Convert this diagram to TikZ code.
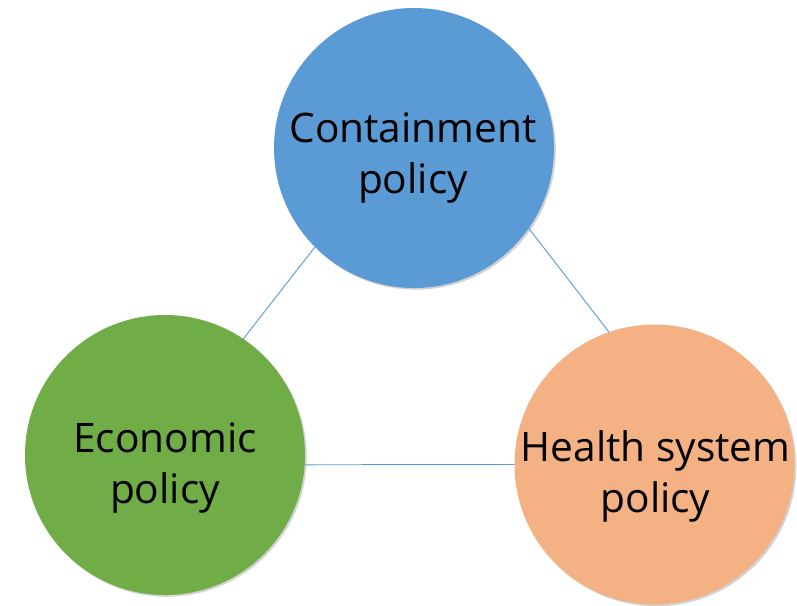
\documentclass[tikz,border=0pt]{standalone}
\usepackage{fontspec}
\setmainfont{Open Sans}
\usetikzlibrary{shadows}
\definecolor{polblue}{HTML}{5B9BD5}
\definecolor{polgreen}{HTML}{70AD47}
\definecolor{polorange}{HTML}{F4B183}
\tikzset{
	bubble/.style={circle, minimum size=8.4cm, inner sep=0pt,
		drop shadow={shadow xshift=1.5pt, shadow yshift=-1.5pt, opacity=0.35}},
	words/.style={align=center, inner sep=0pt},
	link/.style={polblue, line width=0.8pt}
}
\begin{document}
\begin{tikzpicture}[x=0.03cm, y=-0.03cm, font=\fontsize{34.7}{43.5}\selectfont, line join=round, line cap=round]
	\useasboundingbox (0,0) rectangle (797,605);
	% three policy areas
	\node[bubble, fill=polblue] (contain) at (414,148) {};
	\node[bubble, fill=polgreen] (econ) at (165,455) {};
	\node[bubble, fill=polorange] (health) at (654.5,464.5) {};
	\node[words] (containtxt) at (413,157.5) {Containment\\policy};
	\node[words] (econtxt) at (165,468) {Economic\\policy};
	\node[words] (healthtxt) at (655.5,476) {Health system\\policy};
	% links between them
	\draw[link] (contain.225)--(econ.56);
	\draw[link] (contain.-35)--(health.109);
	\draw[link] (econ.-4)--(health.west);
\end{tikzpicture}
\end{document}
